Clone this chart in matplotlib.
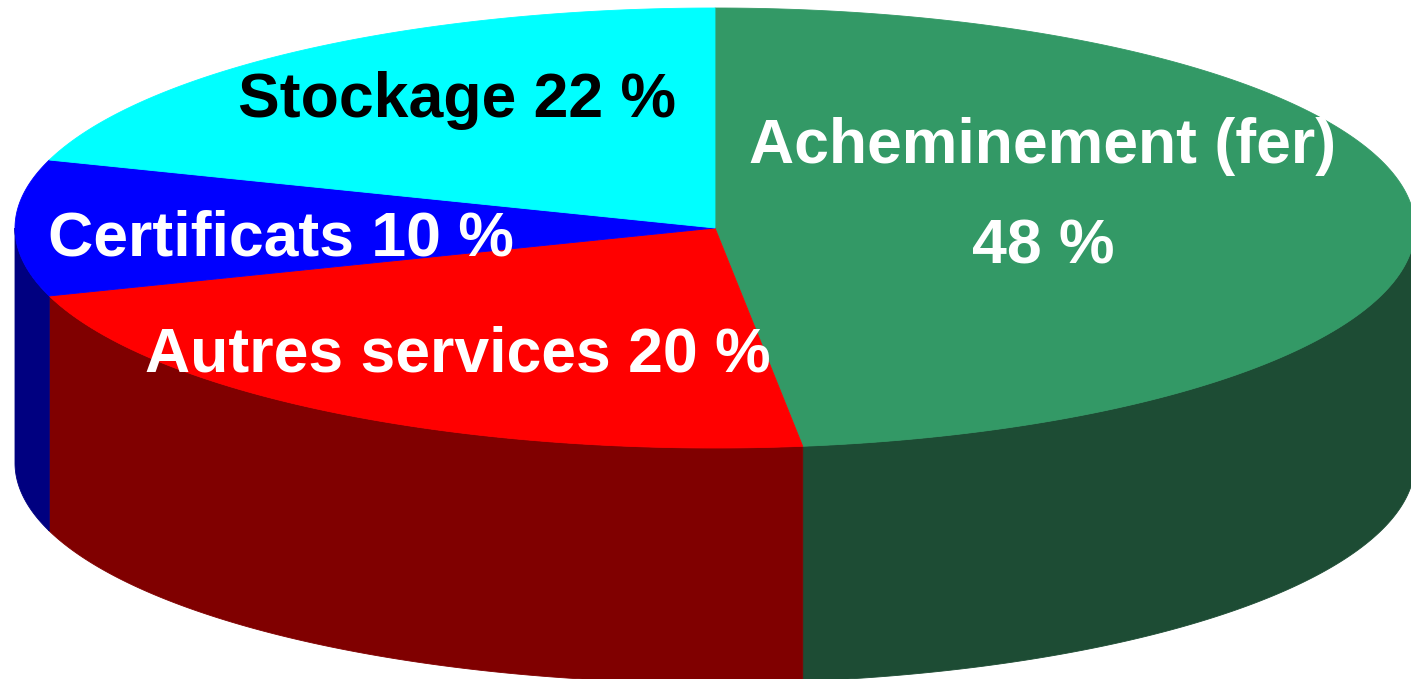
import numpy as np
import matplotlib
matplotlib.use("Agg")
import matplotlib.pyplot as plt
from matplotlib.patches import Polygon


# slice sizes as drawn, clockwise from 12 o'clock (percent)
slice_names = ["Acheminement (fer)", "Autres services", "Certificats", "Stockage"]
slice_values = [48, 22, 10, 20]
# label texts exactly as printed on the chart
slice_labels = ["Acheminement (fer)\n48 %", "Autres services 20 %", "Certificats 10 %", "Stockage 22 %"]

_TOP_COLORS = ["#339966", "#ff0000", "#0000ff", "#00ffff"]
_SIDE_COLORS = ["#1d4c34", "#800000", "#000080", "#008080"]
_TEXT_COLORS = ["white", "white", "white", "black"]

# label anchor (x centre, first baseline) in pixel coords
_LABEL_POS = [(1043, 163), (458, 371), (281, 255), (457, 117)]
_LINE_STEP = 101

# pie geometry in pixels
_CX, _CY = 715, 228
_RX, _RY = 700, 220
_DEPTH = 235

_FONT = ["Liberation Sans", "DejaVu Sans"]


def _arc(t0, t1, dy=0.0, n=200):
    """Points of the ellipse between angles t0..t1 (degrees, clockwise from top)."""
    t = np.radians(np.linspace(t0, t1, n))
    return np.column_stack([_CX + _RX * np.sin(t), _CY - _RY * np.cos(t) + dy])


def _draw_side(ax, t0, t1, color):
    """Front wall of a slice (only the part facing the viewer)."""
    lo, hi = max(t0, 90.0), min(t1, 270.0)
    if hi <= lo:
        return
    top = _arc(lo, hi)
    bottom = _arc(lo, hi, dy=_DEPTH)[::-1]
    ax.add_patch(Polygon(np.vstack([top, bottom]), closed=True,
                         facecolor=color, edgecolor=color, linewidth=0.6))


def _draw_top(ax, t0, t1, color):
    pts = np.vstack([[[_CX, _CY]], _arc(t0, t1)])
    ax.add_patch(Polygon(pts, closed=True, facecolor=color,
                         edgecolor=color, linewidth=0.6))


fig = plt.figure(figsize=(14.11, 6.79), dpi=100)
ax = fig.add_axes([0, 0, 1, 1])
ax.set_xlim(0, 1411)
ax.set_ylim(679, 0)
ax.set_axis_off()

angles = np.concatenate([[0], np.cumsum(slice_values)]) / sum(slice_values) * 360.0

for i in range(len(slice_values)):
    _draw_side(ax, angles[i], angles[i + 1], _SIDE_COLORS[i])

for i in range(len(slice_values)):
    _draw_top(ax, angles[i], angles[i + 1], _TOP_COLORS[i])

for label, (x, y), color in zip(slice_labels, _LABEL_POS, _TEXT_COLORS):
    for k, line in enumerate(label.split("\n")):
        ax.text(x, y + k * _LINE_STEP, line, ha="center", va="baseline",
                fontsize=45, fontweight="bold", color=color, family=_FONT)

fig.savefig("out.png", dpi=100)
plt.close(fig)
